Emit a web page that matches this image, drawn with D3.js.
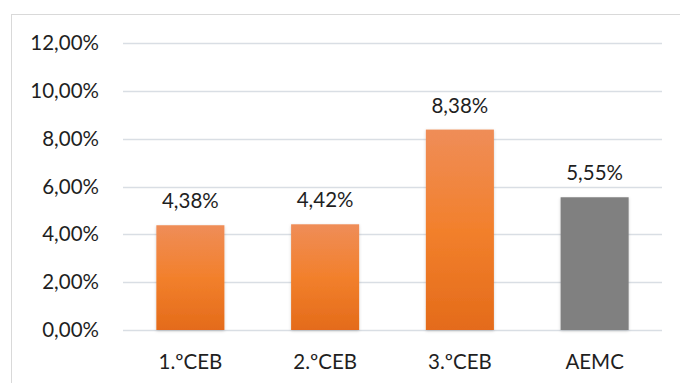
<!DOCTYPE html>
<html><head><meta charset="utf-8">
<script src="https://cdn.jsdelivr.net/npm/d3@7"></script>
<style>body{margin:0;background:#fff}svg{display:block}</style>
</head><body>
<script>
const categories = ["1.ºCEB","2.ºCEB","3.ºCEB","AEMC"];
const values = [4.38, 4.42, 8.38, 5.55];
const valueLabels = ["4,38%","4,42%","8,38%","5,55%"];
const yTicks = [0,2,4,6,8,10,12];
const yTickLabels = ["0,00%","2,00%","4,00%","6,00%","8,00%","10,00%","12,00%"];

const W=680,H=383;
const font = "Lato, 'Open Sans', sans-serif";
const fs = 20.5;
const svg = d3.select("body").append("svg").attr("width",W).attr("height",H);
const defs = svg.append("defs");
const g1 = defs.append("linearGradient").attr("id","og").attr("x1",0).attr("y1",0).attr("x2",0).attr("y2",1);
g1.append("stop").attr("offset","0%").attr("stop-color","#EF8D58");
g1.append("stop").attr("offset","50%").attr("stop-color","#F2802C");
g1.append("stop").attr("offset","100%").attr("stop-color","#E46B1A");
const f = defs.append("filter").attr("id","sh").attr("x","-20%").attr("y","-10%").attr("width","140%").attr("height","120%");
f.append("feDropShadow").attr("dx",0).attr("dy",1).attr("stdDeviation",1.5).attr("flood-color","#000").attr("flood-opacity",0.18);

svg.append("rect").attr("x",11.5).attr("y",14.5).attr("width",720).attr("height",420)
  .attr("fill","#fff").attr("stroke","#D9D9D9").attr("stroke-width",1);

const x = d3.scaleBand().domain(categories).range([123,662]).paddingInner(0.495).paddingOuter(0.2475);
const y = d3.scaleLinear().domain([0,12]).range([330,43]);

const grid = svg.append("g");
grid.selectAll("line").data(yTicks).join("line")
  .attr("x1",123).attr("x2",662)
  .attr("y1",d=>Math.round(y(d))+0.5).attr("y2",d=>Math.round(y(d))+0.5)
  .attr("stroke","#D9DEE4").attr("stroke-width",1.3);

const yAxis = d3.axisLeft(y).tickValues(yTicks).tickFormat((d,i)=>yTickLabels[i]).tickSize(0).tickPadding(0);
const ya = svg.append("g").attr("transform","translate(99,0)").call(yAxis);
ya.select(".domain").remove();
ya.selectAll("text").attr("font-family",font).attr("font-size",fs).attr("fill","#1f1f1f");

svg.append("g").selectAll("rect").data(values).join("rect")
  .attr("x",(d,i)=>x(categories[i])).attr("width",x.bandwidth())
  .attr("y",d=>y(d)).attr("height",d=>y(0)-y(d))
  .attr("fill",(d,i)=>i===3?"#808080":"url(#og)")
  .attr("filter","url(#sh)");

svg.append("g").selectAll("text").data(values).join("text")
  .attr("x",(d,i)=>x(categories[i])+x.bandwidth()/2)
  .attr("y",d=>y(d)-17)
  .attr("text-anchor","middle").attr("font-family",font).attr("font-size",fs).attr("fill","#1f1f1f")
  .text((d,i)=>valueLabels[i]);

const xAxis = d3.axisBottom(x).tickSize(0).tickPadding(0);
const xa = svg.append("g").attr("transform","translate(0,354)").call(xAxis);
xa.select(".domain").remove();
xa.selectAll("text").attr("font-family",font).attr("font-size",fs).attr("fill","#1f1f1f");
</script>
</body></html>
